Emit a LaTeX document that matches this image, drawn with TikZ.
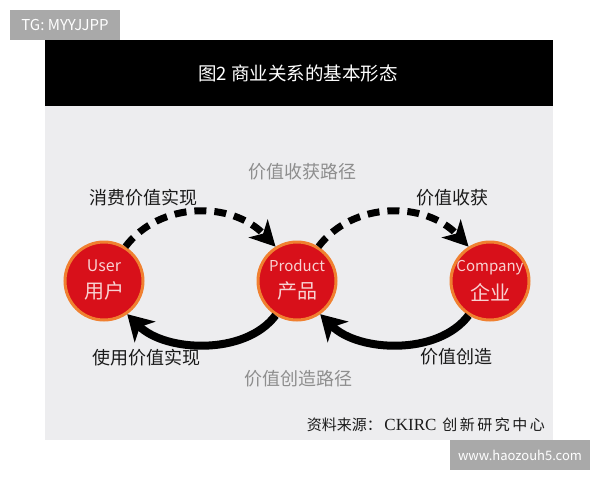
\documentclass[tikz,border=0pt]{standalone}
\usepackage{fontspec}
\setmainfont{Noto Sans CJK SC}
\newfontfamily\cjk{Noto Sans CJK SC}
\newfontfamily\latinserif{Liberation Serif}
\usetikzlibrary{arrows.meta}
\definecolor{panelgray}{HTML}{EDEDEF}
\definecolor{taggray}{HTML}{A9A9A9}
\definecolor{circred}{HTML}{D8101A}
\definecolor{circorange}{HTML}{F08030}
\definecolor{circtext}{HTML}{F8D2D2}
\definecolor{pathgray}{HTML}{8E8E8E}
\definecolor{labelblack}{HTML}{1A1A1A}
\tikzset{
  party/.style={circle, fill=circred, draw=circorange, line width=3pt, minimum size=78pt, inner sep=0pt, text=circtext, align=center},
  lbl/.style={font=\fontsize{18}{20}\selectfont, text=labelblack, inner sep=0pt},
  pathlbl/.style={font=\fontsize{18}{20}\selectfont, text=pathgray, inner sep=0pt},
  tag/.style={fill=taggray, text=white, inner sep=0pt},
  dasharrow/.style={line width=7pt, dash pattern=on 12pt off 8pt, -{Stealth[length=25pt, width=26pt, inset=7pt]}},
  solidarrow/.style={line width=8pt, -{Stealth[length=25pt, width=29pt, inset=7pt]}},
}
\begin{document}
\begin{tikzpicture}[x=1pt, y=-1pt]
\useasboundingbox (0,0) rectangle (600,480);
\fill[white] (0,0) rectangle (600,480);
% panel and header
\fill[panelgray] (45,106) rectangle (553,440);
\fill[black] (45,40) rectangle (553,106);
\node[text=white, font=\fontsize{18.5}{20}\selectfont, inner sep=0pt] (title) at (298,73) {图2 商业关系的基本形态};
% top-left tag
\node[tag, minimum width=110pt, minimum height=30pt, font=\fontsize{15}{17}\selectfont] (tg) at (65,25) {TG: MYYJJPP};
% circles
\node[party] (user) at (104,281) {};
\node[font=\fontsize{16}{18}\selectfont, text=circtext, inner sep=0pt] (userEn) at (104,266) {User};
\node[font=\fontsize{20}{22}\selectfont, text=circtext, inner sep=0pt] (userZh) at (104,291) {用户};
\node[party] (prod) at (297,281) {};
\node[font=\fontsize{15}{17}\selectfont, text=circtext, inner sep=0pt] (prodEn) at (297,266) {Product};
\node[font=\fontsize{20}{22}\selectfont, text=circtext, inner sep=0pt] (prodZh) at (297,291) {产品};
\node[party] (comp) at (490,281) {};
\node[font=\fontsize{15}{17}\selectfont, text=circtext, inner sep=0pt] (compEn) at (490,268) {Company};
\node[font=\fontsize{20}{22}\selectfont, text=circtext, inner sep=0pt] (compZh) at (490,293) {企业};
% dashed arrows (top)
\draw[dasharrow] (user.58) .. controls (160,201) and (232,201) .. (prod.122);
\draw[dasharrow] (prod.58) .. controls (353,201) and (425,201) .. (comp.122);
% solid arrows (bottom)
\draw[solidarrow] (prod.238) .. controls (245,356) and (165,352) .. (user.305);
\draw[solidarrow] (comp.238) .. controls (438,356) and (358,352) .. (prod.305);
% labels
\node[lbl] (l1) at (143,198) {消费价值实现};
\node[lbl] (l2) at (452,198) {价值收获};
\node[pathlbl] (p1) at (302,172) {价值收获路径};
\node[lbl] (l3) at (146,358) {使用价值实现};
\node[lbl] (l4) at (456,357) {价值创造};
\node[pathlbl] (p2) at (298,379) {价值创造路径};
\node[anchor=east, inner sep=0pt, text=labelblack, font=\fontsize{15}{17}\selectfont] (src) at (545,425) {资料来源：\,{\latinserif\fontsize{17}{19}\selectfont CKIRC}\, 创\,新\,研\,究\,中\,心};
% bottom-right tag
\node[tag, minimum width=140pt, minimum height=30pt, font=\fontsize{13}{15}\selectfont] (www) at (520,455) {www.haozouh5.com};
\end{tikzpicture}
\end{document}
